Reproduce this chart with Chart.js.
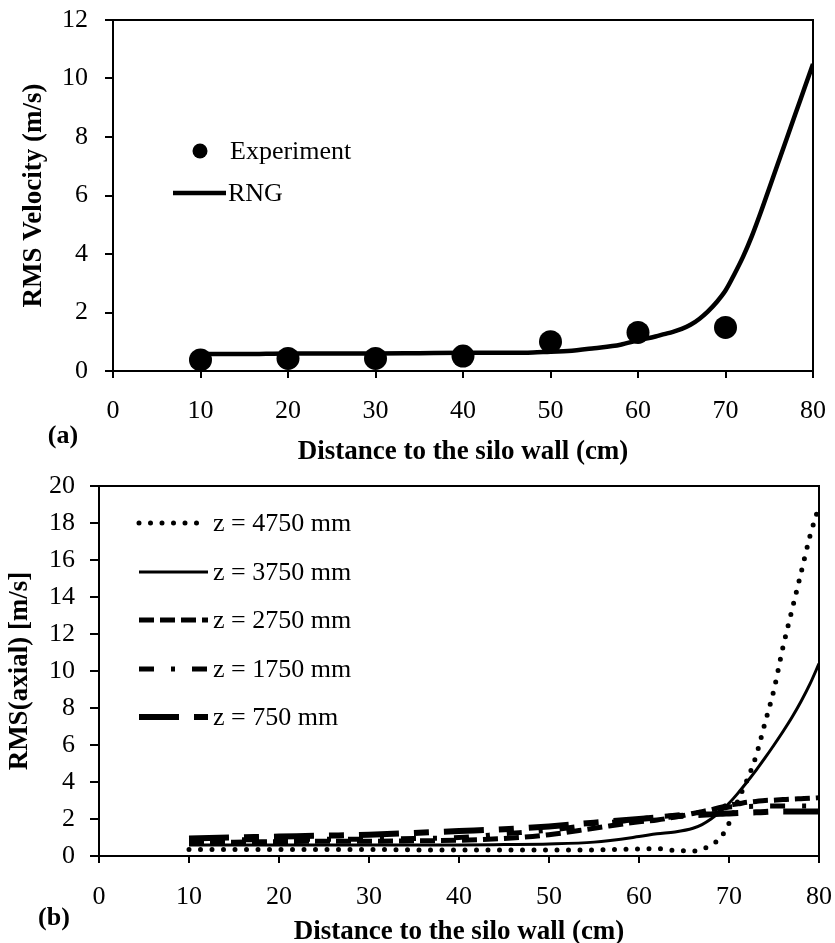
<!DOCTYPE html>
<html>
<head>
<meta charset="utf-8">
<script src="https://cdn.jsdelivr.net/npm/chart.js@4.4.1/dist/chart.umd.min.js"></script>
<style>
  html, body { margin: 0; padding: 0; background: #fff; }
  canvas { display: block; }
</style>
</head>
<body>
<canvas id="ca" width="835" height="470"></canvas>
<canvas id="cb" width="835" height="473"></canvas>
<script>
// ---------- Data: chart (a) ----------
const expX = [10, 20, 30, 40, 50, 60, 70];
const expY = [0.38, 0.43, 0.43, 0.51, 1.0, 1.32, 1.49];
const rngX = [10, 15, 20, 25, 30, 35, 40, 45, 48, 50, 52, 55, 58, 60, 62, 63, 64, 65, 66, 67, 68, 69, 70, 71, 72, 73, 74, 75, 76, 77, 78, 79, 80];
const rngY = [0.58, 0.58, 0.6, 0.6, 0.6, 0.61, 0.62, 0.62, 0.63, 0.66, 0.68, 0.78, 0.9, 1.05, 1.18, 1.26, 1.34, 1.44, 1.58, 1.78, 2.04, 2.36, 2.75, 3.3, 3.9, 4.6, 5.4, 6.25, 7.1, 7.95, 8.8, 9.65, 10.5];
const xTicksA = [0, 10, 20, 30, 40, 50, 60, 70, 80];
const yTicksA = [0, 2, 4, 6, 8, 10, 12];

// ---------- Data: chart (b) ----------
const distB = [10, 15, 20, 25, 30, 35, 40, 45, 50, 55, 60, 62, 64, 66, 67, 68, 69, 70, 71, 72, 73, 74, 75, 76, 77, 78, 79, 80];
const z4750 = [0.35, 0.35, 0.35, 0.35, 0.35, 0.33, 0.32, 0.32, 0.32, 0.33, 0.38, 0.4, 0.3, 0.27, 0.35, 0.6, 0.95, 1.77, 3.0, 4.1, 5.4, 7.2, 9.0, 11.3, 13.3, 15.3, 17.3, 18.9];
const z3750 = [0.6, 0.6, 0.6, 0.6, 0.6, 0.6, 0.6, 0.62, 0.65, 0.75, 1.05, 1.2, 1.3, 1.5, 1.7, 2.0, 2.38, 2.85, 3.4, 4.0, 4.63, 5.3, 6.0, 6.73, 7.5, 8.35, 9.3, 10.4];
const z2750 = [0.75, 0.75, 0.78, 0.8, 0.8, 0.82, 0.85, 0.95, 1.15, 1.5, 1.85, 1.95, 2.1, 2.3, 2.4, 2.5, 2.62, 2.75, 2.82, 2.9, 2.95, 3.0, 3.02, 3.05, 3.08, 3.1, 3.12, 3.15];
const z1750 = [0.85, 0.87, 0.9, 0.9, 0.9, 0.95, 1.0, 1.2, 1.4, 1.7, 2.0, 2.1, 2.2, 2.3, 2.38, 2.45, 2.55, 2.65, 2.67, 2.68, 2.69, 2.7, 2.7, 2.7, 2.7, 2.7, 2.7, 2.7];
const z750  = [0.95, 1.0, 1.05, 1.1, 1.15, 1.25, 1.35, 1.45, 1.6, 1.8, 2.0, 2.08, 2.15, 2.2, 2.23, 2.25, 2.28, 2.3, 2.32, 2.34, 2.36, 2.38, 2.4, 2.4, 2.4, 2.4, 2.4, 2.4];
const labelsB = ['z = 4750 mm', 'z = 3750 mm', 'z = 2750 mm', 'z = 1750 mm', 'z = 750 mm'];
const yTicksB = [0, 2, 4, 6, 8, 10, 12, 14, 16, 18, 20];

const pts = (xs, ys) => xs.map((x, i) => ({ x: x, y: ys[i] }));

const FONT = 'Liberation Serif, "Times New Roman", serif';
Chart.defaults.font.family = FONT;
Chart.defaults.color = '#000';

const boxPlugin = {
  id: 'box',
  afterDraw(chart) {
    const { ctx, chartArea: a } = chart;
    ctx.save();
    ctx.strokeStyle = '#000';
    ctx.lineWidth = 2;
    ctx.strokeRect(a.left, a.top, a.right - a.left, a.bottom - a.top);
    ctx.restore();
  }
};

function panelLabelPlugin(text, x, y) {
  return {
    id: 'panel' + text,
    afterDraw(chart) {
      const ctx = chart.ctx;
      ctx.save();
      ctx.font = 'bold 26px ' + FONT;
      ctx.fillStyle = '#000';
      ctx.textAlign = 'center';
      ctx.textBaseline = 'middle';
      ctx.fillText(text, x, y);
      ctx.restore();
    }
  };
}

function fixSize(prop, val) {
  return s => {
    s[prop] = val;
    s.paddingLeft = 0; s.paddingRight = 0; s.paddingTop = 0; s.paddingBottom = 0;
  };
}

function scaleOpts(min, max, step, title, opts) {
  return {
    type: 'linear', min: min, max: max,
    ticks: { stepSize: step, font: { size: 26 }, color: '#000', padding: opts.pad },
    grid: { drawOnChartArea: false, drawTicks: true, tickLength: opts.tl, color: '#000', lineWidth: 2 },
    border: { display: true, color: '#000', width: 2 },
    title: { display: true, text: title, font: { size: 27, weight: 'bold', lineHeight: opts.lh || 1.2 }, color: '#000', padding: opts.tpad },
    afterFit: opts.fit,
    afterBuildTicks: s => { s.ticks = opts.ticks.map(v => ({ value: v })); }
  };
}

// ---------- Chart (a) ----------
const legendA = {
  id: 'legendA',
  afterDraw(chart) {
    const ctx = chart.ctx;
    const dsE = chart.data.datasets[0], dsR = chart.data.datasets[1];
    ctx.save();
    ctx.fillStyle = dsE.backgroundColor;
    ctx.beginPath();
    ctx.arc(200, 151, 7.5, 0, Math.PI * 2);
    ctx.fill();
    ctx.strokeStyle = dsR.borderColor;
    ctx.lineWidth = dsR.borderWidth;
    ctx.beginPath();
    ctx.moveTo(173, 193);
    ctx.lineTo(226, 193);
    ctx.stroke();
    ctx.fillStyle = '#000';
    ctx.font = '26px ' + FONT;
    ctx.textBaseline = 'middle';
    ctx.textAlign = 'left';
    ctx.fillText(dsE.label, 230, 152);
    ctx.fillText(dsR.label, 228, 194);
    ctx.restore();
  }
};

new Chart(document.getElementById('ca'), {
  type: 'scatter',
  data: {
    datasets: [
      { label: 'Experiment', data: pts(expX, expY), pointRadius: 11.5, pointHoverRadius: 11.5,
        backgroundColor: '#000', borderColor: '#000', borderWidth: 0, showLine: false, order: 0 },
      { label: 'RNG', data: pts(rngX, rngY), showLine: true, pointRadius: 0, borderColor: '#000',
        borderWidth: 4.5, cubicInterpolationMode: 'monotone', fill: false, order: 1 }
    ]
  },
  options: {
    responsive: false, animation: false, devicePixelRatio: 1,
    layout: { padding: { top: 20, right: 22, left: 0, bottom: 0 } },
    plugins: { legend: { display: false }, tooltip: { enabled: false } },
    scales: {
      x: scaleOpts(0, 80, 10, 'Distance to the silo wall (cm)',
            { pad: 18, tl: 7, tpad: { top: 0, bottom: 2 }, fit: fixSize('height', 99), ticks: xTicksA }),
      y: scaleOpts(0, 12, 2, 'RMS Velocity (m/s)',
            { pad: 17, tl: 8, tpad: { top: 18, bottom: 0 }, fit: fixSize('width', 113), ticks: yTicksA })
    }
  },
  plugins: [boxPlugin, legendA, panelLabelPlugin('(a)', 63, 436)]
});

// ---------- Chart (b) ----------
const legendB = {
  id: 'legendB',
  afterDraw(chart) {
    const ctx = chart.ctx;
    const ys = [53, 102, 150, 199, 247];
    ctx.save();
    chart.data.datasets.forEach((ds, i) => {
      ctx.strokeStyle = ds.borderColor;
      ctx.lineWidth = ds.borderWidth;
      ctx.lineCap = ds.borderCapStyle || 'butt';
      ctx.setLineDash(ds.borderDash || []);
      ctx.beginPath();
      ctx.moveTo(139, ys[i]);
      ctx.lineTo(208, ys[i]);
      ctx.stroke();
      ctx.setLineDash([]);
      ctx.fillStyle = '#000';
      ctx.font = '26px ' + FONT;
      ctx.textBaseline = 'middle';
      ctx.textAlign = 'left';
      ctx.fillText(ds.label, 213, ys[i] + 1);
    });
    ctx.restore();
  }
};

const seriesB = [z4750, z3750, z2750, z1750, z750];
const stylesB = [
  { borderWidth: 5, borderDash: [0, 11.5], borderCapStyle: 'round' },
  { borderWidth: 3, borderDash: [], borderCapStyle: 'butt' },
  { borderWidth: 5, borderDash: [15, 6], borderCapStyle: 'butt' },
  { borderWidth: 5, borderDash: [15, 17, 4, 17], borderCapStyle: 'butt' },
  { borderWidth: 6, borderDash: [40, 15, 15, 15], borderCapStyle: 'butt' }
];

new Chart(document.getElementById('cb'), {
  type: 'scatter',
  data: {
    datasets: seriesB.map((ys, i) => Object.assign({
      label: labelsB[i], data: pts(distB, ys), showLine: true, pointRadius: 0,
      borderColor: '#000', backgroundColor: '#000', cubicInterpolationMode: 'monotone', fill: false
    }, stylesB[i]))
  },
  options: {
    responsive: false, animation: false, devicePixelRatio: 1,
    layout: { padding: { top: 16, right: 16, left: 0, bottom: 0 } },
    plugins: { legend: { display: false }, tooltip: { enabled: false } },
    scales: {
      x: scaleOpts(0, 80, 10, 'Distance to the silo wall (cm)',
            { pad: 19, tl: 7, lh: 0.8, tpad: { top: 0, bottom: 0.6 }, fit: fixSize('height', 87), ticks: xTicksA }),
      y: scaleOpts(0, 20, 2, 'RMS(axial) [m/s]',
            { pad: 15, tl: 9, tpad: { top: 4, bottom: 0 }, fit: fixSize('width', 99), ticks: yTicksB })
    }
  },
  plugins: [boxPlugin, legendB, panelLabelPlugin('(b)', 54, 448)]
});
</script>
</body>
</html>
